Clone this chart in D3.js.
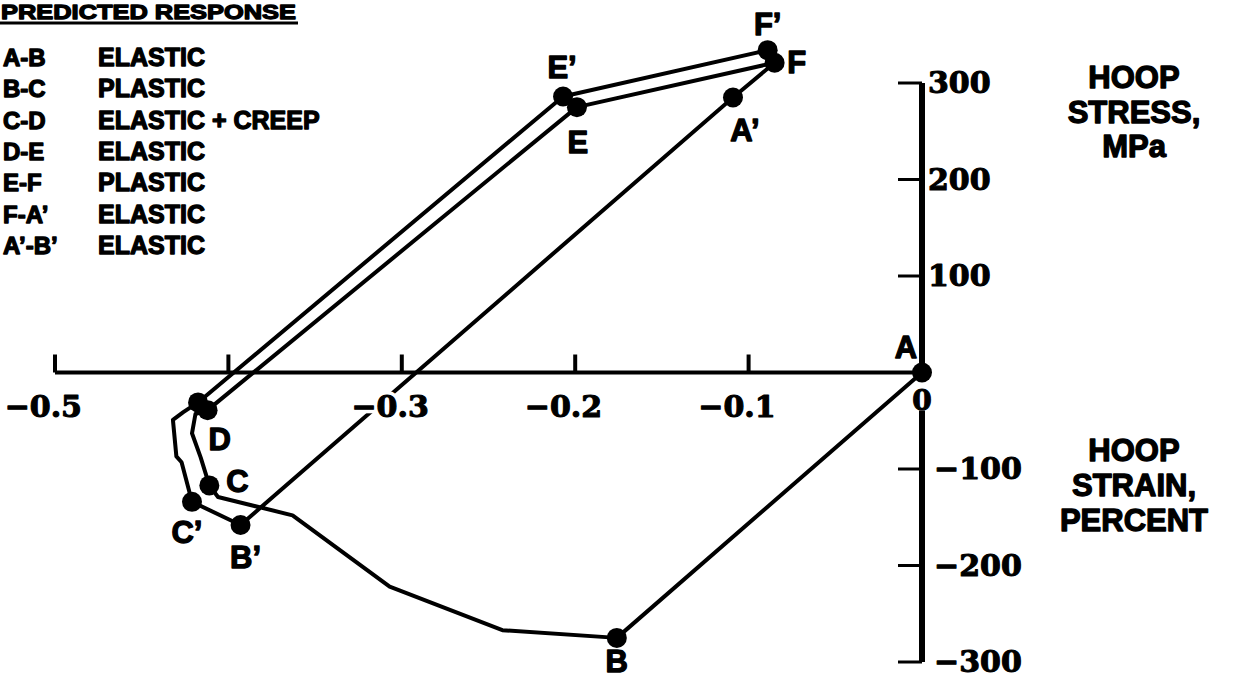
<!DOCTYPE html>
<html>
<head>
<meta charset="utf-8">
<script src="https://cdn.jsdelivr.net/npm/d3@7"></script>
<style>
  html, body { margin: 0; padding: 0; background: #fff; }
  svg { display: block; }
  .sans { font-family: "Liberation Sans", Arial, sans-serif; font-weight: bold; fill: #000; stroke: #000; stroke-width: 1.3px; stroke-linejoin: round; }
  .serif { font-family: "DejaVu Serif", "Liberation Serif", serif; font-weight: bold; fill: #000; stroke: #000; stroke-width: 1.1px; stroke-linejoin: round; }
  .halo { font-family: "DejaVu Serif", "Liberation Serif", serif; font-weight: bold; fill: #fff; stroke: #fff; stroke-width: 8px; stroke-linejoin: round; }
</style>
</head>
<body>
<script>
// ---------------- data ----------------
const xTicks = [-0.5, -0.4, -0.3, -0.2, -0.1];
const xTickLabels = ["\u22120.5", "", "\u22120.3", "\u22120.2", "\u22120.1"];
const yTicks = [300, 200, 100, -100, -200, -300];
const yTickLabels = ["300", "200", "100", "\u2212100", "\u2212200", "\u2212300"];

// load path (hoop strain %, hoop stress MPa); name "" = unlabeled vertex
const vertexName   = ["A", "B", "", "", "", "", "C", "", "", "", "D", "E", "F", "A\u2019", "B\u2019", "C\u2019", "", "", "", "", "D\u2019", "E\u2019", "F\u2019"];
const vertexStrain = [0, -0.176, -0.242, -0.307, -0.363, -0.406, -0.411, -0.416, -0.421, -0.419, -0.412, -0.199, -0.085, -0.109, -0.393, -0.421, -0.427, -0.430, -0.432, -0.426, -0.4175, -0.207, -0.089];
const vertexStress = [0, -275, -267, -222, -148, -129, -117, -88, -63, -43, -39, 275, 321, 285, -158, -134, -93, -87, -49, -41, -31, 286, 334];

const legendKeys  = ["A-B", "B-C", "C-D", "D-E", "E-F", "F-A\u2019", "A\u2019-B\u2019"];
const legendTexts = ["ELASTIC", "PLASTIC", "ELASTIC + CREEP", "ELASTIC", "PLASTIC", "ELASTIC", "ELASTIC"];
const titleText = "PREDICTED RESPONSE";
const stressTitle = ["HOOP", "STRESS,", "MPa"];
const strainTitle = ["HOOP", "STRAIN,", "PERCENT"];

// ---------------- layout ----------------
const W = 1237, H = 680;
const labelOffsets = {
  "A": [-16, -15], "B": [0, 34], "C": [28, 7], "D": [12, 40], "E": [1, 46], "F": [22, 10],
  "A\u2019": [12, 44], "B\u2019": [5, 43], "C\u2019": [-5, 41], "E\u2019": [-1, -19], "F\u2019": [0, -15]
};

const svg = d3.select("body").append("svg").attr("width", W).attr("height", H);
svg.append("rect").attr("width", W).attr("height", H).attr("fill", "#fff");

const x = d3.scaleLinear().domain([-0.5, 0]).range([55, 922]);
const y = d3.scaleLinear().domain([-300, 300]).range([662, 83]);

// ---- x axis lines ----
const gx = svg.append("g");
gx.append("line").attr("x1", x(-0.5)).attr("x2", x(0)).attr("y1", y(0)).attr("y2", y(0))
  .attr("stroke", "#000").attr("stroke-width", 4);
gx.selectAll("line.tick").data(xTicks).join("line").attr("class", "tick")
  .attr("x1", d => x(d)).attr("x2", d => x(d)).attr("y1", y(0)).attr("y2", y(0) - 18)
  .attr("stroke", "#000").attr("stroke-width", 4);

// ---- y axis lines ----
const gy = svg.append("g");
gy.append("line").attr("x1", x(0)).attr("x2", x(0)).attr("y1", y(300)).attr("y2", y(0))
  .attr("stroke", "#000").attr("stroke-width", 6);
gy.append("line").attr("x1", x(0)).attr("x2", x(0)).attr("y1", y(0) + 38).attr("y2", y(-300))
  .attr("stroke", "#000").attr("stroke-width", 6);
gy.selectAll("line.tick").data(yTicks).join("line").attr("class", "tick")
  .attr("x1", x(0) - 24).attr("x2", x(0)).attr("y1", d => y(d)).attr("y2", d => y(d))
  .attr("stroke", "#000").attr("stroke-width", 3);

// ---- curve ----
const pts = vertexName.map((n, i) => ({ name: n, sx: vertexStrain[i], sy: vertexStress[i] }));
const line = d3.line().x(d => x(d.sx)).y(d => y(d.sy));
svg.append("path").datum(pts).attr("d", line).attr("fill", "none")
  .attr("stroke", "#000").attr("stroke-width", 4).attr("stroke-linejoin", "round").attr("stroke-linecap", "round");

const named = pts.filter(d => d.name !== "");
svg.selectAll("circle.pt").data(named).join("circle").attr("class", "pt")
  .attr("cx", d => x(d.sx)).attr("cy", d => y(d.sy)).attr("r", 10).attr("fill", "#000");

// ---- x tick labels (white knockout under, drawn over the curve) ----
const gxl = svg.append("g");
["halo", "serif"].forEach(c => {
  gxl.selectAll("text." + c).data(xTicks).join("text").attr("class", c)
    .attr("x", d => x(d) + 27).attr("y", y(0) + 44).attr("text-anchor", "end")
    .attr("font-size", 30).text((d, i) => xTickLabels[i]);
});
gxl.append("text").attr("class", "serif").attr("x", x(0)).attr("y", y(0) + 37)
  .attr("text-anchor", "middle").attr("font-size", 28).text("0");
gxl.selectAll("text.yl").data(yTicks).join("text").attr("class", "yl serif")
  .attr("x", d => d > 0 ? x(0) + 6 : x(0) + 12).attr("y", d => y(d) + 10)
  .attr("font-size", 30).text((d, i) => yTickLabels[i]);

// ---- point labels ----
const lab = named.filter(d => labelOffsets[d.name]);
svg.selectAll("text.pl").data(lab).join("text").attr("class", "pl sans")
  .attr("x", d => x(d.sx) + labelOffsets[d.name][0]).attr("y", d => y(d.sy) + labelOffsets[d.name][1])
  .attr("text-anchor", "middle").attr("font-size", 31).text(d => d.name);

// ---- legend ----
const gl = svg.append("g");
gl.append("text").attr("class", "sans").attr("x", 1).attr("y", 19).attr("font-size", 21)
  .attr("textLength", 295).attr("lengthAdjust", "spacingAndGlyphs").text(titleText);
gl.append("line").attr("x1", 0).attr("x2", 298).attr("y1", 23).attr("y2", 23)
  .attr("stroke", "#000").attr("stroke-width", 3);
gl.selectAll("text.k").data(legendKeys).join("text").attr("class", "k sans")
  .attr("x", 3).attr("y", (d, i) => 66 + i * 31.3).attr("font-size", 24).text(d => d);
gl.selectAll("text.v").data(legendTexts).join("text").attr("class", "v sans")
  .attr("x", 98).attr("y", (d, i) => 66 + i * 31.3).attr("font-size", 25).text(d => d);

// ---- axis titles ----
svg.selectAll("text.st").data(stressTitle).join("text").attr("class", "st sans")
  .attr("x", 1134).attr("y", (d, i) => 88 + i * 34.5).attr("text-anchor", "middle")
  .attr("font-size", 31).text(d => d);
svg.selectAll("text.sn").data(strainTitle).join("text").attr("class", "sn sans")
  .attr("x", 1134).attr("y", (d, i) => 461 + i * 35).attr("text-anchor", "middle")
  .attr("font-size", 31).text(d => d);
</script>
</body>
</html>
